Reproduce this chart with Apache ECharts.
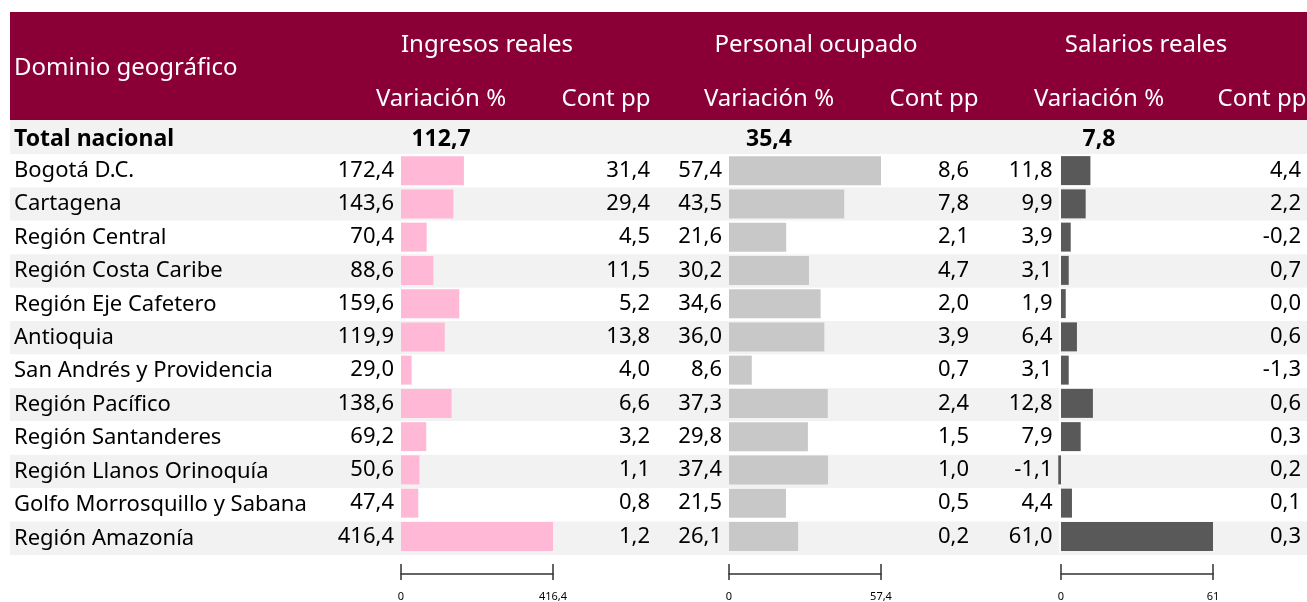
<!DOCTYPE html>
<html>
<head>
<meta charset="utf-8">
<script src="https://cdn.jsdelivr.net/npm/echarts@6/dist/echarts.min.js"></script>
<style>
html, body { margin: 0; padding: 0; background: #fff; }
#main { width: 1307px; height: 602px; }
</style>
</head>
<body>
<div id="main"></div>
<script>
var regiones = ['Bogotá D.C.', 'Cartagena', 'Región Central', 'Región Costa Caribe', 'Región Eje Cafetero',
    'Antioquia', 'San Andrés y Providencia', 'Región Pacífico', 'Región Santanderes',
    'Región Llanos Orinoquía', 'Golfo Morrosquillo y Sabana', 'Región Amazonía'];
var ingVar  = [172.4, 143.6, 70.4, 88.6, 159.6, 119.9, 29.0, 138.6, 69.2, 50.6, 47.4, 416.4];
var ingCont = [31.4, 29.4, 4.5, 11.5, 5.2, 13.8, 4.0, 6.6, 3.2, 1.1, 0.8, 1.2];
var perVar  = [57.4, 43.5, 21.6, 30.2, 34.6, 36.0, 8.6, 37.3, 29.8, 37.4, 21.5, 26.1];
var perCont = [8.6, 7.8, 2.1, 4.7, 2.0, 3.9, 0.7, 2.4, 1.5, 1.0, 0.5, 0.2];
var salVar  = [11.8, 9.9, 3.9, 3.1, 1.9, 6.4, 3.1, 12.8, 7.9, -1.1, 4.4, 61.0];
var salCont = [4.4, 2.2, -0.2, 0.7, 0.0, 0.6, -1.3, 0.6, 0.3, 0.2, 0.1, 0.3];
var grupos = ['Ingresos reales', 'Personal ocupado', 'Salarios reales'];
var totales = [112.7, 35.4, 7.8];
var escalaMax = [416.4, 57.4, 61];

var FONT = 'Noto Sans';
var colores = ['#ffb9d7', '#c8c8c8', '#595959'];
var vars = [ingVar, perVar, salVar];
var conts = [ingCont, perCont, salCont];
// posicion de cada bloque de barras
var gridLeft = [401, 729, 1061];
var gridW = 152;
var contMargin = [97, 88, 88];
var colVar = [441, 769, 1099];
var colCont = [606, 934, 1262];
var colGrupo = [487, 816, 1146];

function fmt(v) { return v.toFixed(1).replace('.', ','); }

var myChart = echarts.init(document.getElementById('main'));

var grid = [{ left: 10, right: 0, top: 154, height: 401 }];
var xAxis = [{ gridIndex: 0, type: 'value', show: false }];
var yAxis = [{
    gridIndex: 0, type: 'category', inverse: true, data: regiones,
    axisLine: { show: false }, axisTick: { show: false },
    splitArea: { show: true, areaStyle: { color: ['#ffffff', '#f2f2f2'] } },
    axisLabel: { inside: true, margin: 4, interval: 0, fontFamily: FONT, fontSize: 22, color: '#000', padding: [6, 0, 0, 0] }
}];
var series = [];

for (var k = 0; k < 3; k++) {
    (function (k) {
        var g = k + 1;
        grid.push({ left: gridLeft[k], width: gridW, top: 154, height: 401 });
        // eje con ticks hacia arriba y etiquetas
        xAxis.push({
            gridIndex: g, type: 'value', min: 0, max: escalaMax[k], interval: escalaMax[k],
            position: 'bottom', offset: 21,
            axisLine: { show: true, lineStyle: { color: '#333', width: 1.5 } },
            axisTick: { show: true, inside: true, length: 10, lineStyle: { color: '#333', width: 1.5 } },
            axisLabel: {
                margin: 17, fontFamily: FONT, fontSize: 11, color: '#000',
                formatter: function (v) { return String(v).replace('.', ','); }
            },
            splitLine: { show: false }
        });
        // mismo eje, solo ticks hacia abajo
        xAxis.push({
            gridIndex: g, type: 'value', min: 0, max: escalaMax[k], interval: escalaMax[k],
            position: 'bottom', offset: 21,
            axisLine: { show: false },
            axisTick: { show: true, inside: false, length: 6, lineStyle: { color: '#333', width: 1.5 } },
            axisLabel: { show: false },
            splitLine: { show: false }
        });
        yAxis.push({
            gridIndex: g, type: 'category', inverse: true, data: regiones,
            offset: k == 2 ? 1.5 : 0,
            axisLine: { show: k == 2, onZero: false, lineStyle: { color: '#ffffff', width: 1.5 } },
            axisTick: { show: false },
            axisLabel: {
                margin: 7, interval: 0, fontFamily: FONT, fontSize: 22, color: '#000', padding: [6, 0, 0, 0],
                formatter: function (v, i) { return fmt(vars[k][i]); }
            }
        });
        yAxis.push({
            gridIndex: g, type: 'category', inverse: true, data: regiones, position: 'right',
            axisLine: { show: false }, axisTick: { show: false },
            axisLabel: {
                margin: contMargin[k], align: 'right', interval: 0, fontFamily: FONT, fontSize: 22, color: '#000',
                padding: [6, 0, 0, 0],
                formatter: function (v, i) { return fmt(conts[k][i]); }
            }
        });
        series.push({
            type: 'bar', xAxisIndex: 1 + k * 2, yAxisIndex: 1 + k * 2,
            data: vars[k], barWidth: 29, clip: false, silent: true,
            itemStyle: { color: colores[k] }
        });
    })(k);
}

var graphic = [
    { type: 'rect', left: 10, top: 12, shape: { width: 1297, height: 108 }, style: { fill: '#8a0036' }, z: -1 },
    { type: 'rect', left: 10, top: 120, shape: { width: 1297, height: 34 }, style: { fill: '#f2f2f2' }, z: -1 },
    { type: 'text', x: 14, y: 68, style: { text: 'Dominio geográfico', fill: '#fff', font: '24px "' + FONT + '"', verticalAlign: 'middle' } },
    { type: 'text', x: 14, y: 139, style: { text: 'Total nacional', fill: '#000', font: 'bold 23px "' + FONT + '"', verticalAlign: 'middle' } }
];
for (var j = 0; j < 3; j++) {
    graphic.push({ type: 'text', x: colGrupo[j], y: 45,
        style: { text: grupos[j], fill: '#fff', font: '24px "' + FONT + '"', align: 'center', verticalAlign: 'middle' } });
    graphic.push({ type: 'text', x: colVar[j], y: 99,
        style: { text: 'Variación %', fill: '#fff', font: '24px "' + FONT + '"', align: 'center', verticalAlign: 'middle' } });
    graphic.push({ type: 'text', x: colCont[j], y: 99,
        style: { text: 'Cont pp', fill: '#fff', font: '24px "' + FONT + '"', align: 'center', verticalAlign: 'middle' } });
    graphic.push({ type: 'text', x: colVar[j], y: 139,
        style: { text: fmt(totales[j]), fill: '#000', font: 'bold 23px "' + FONT + '"', align: 'center', verticalAlign: 'middle' } });
}

var option = {
    animation: false,
    grid: grid,
    xAxis: xAxis,
    yAxis: yAxis,
    series: series,
    graphic: graphic
};
myChart.setOption(option);
</script>
</body>
</html>
